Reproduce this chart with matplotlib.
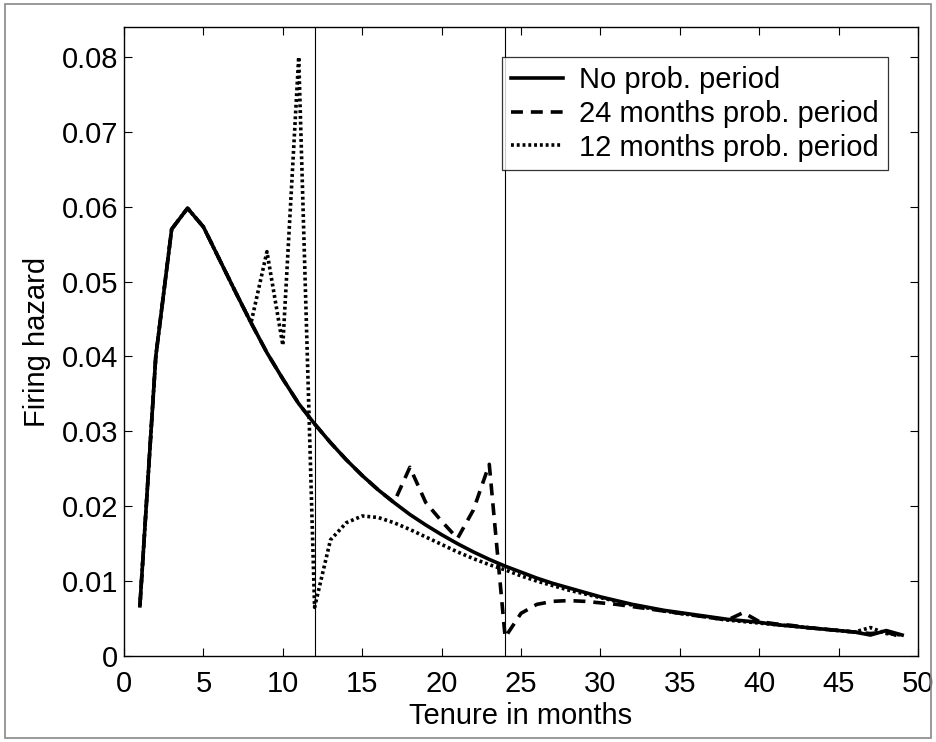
import numpy as np
import matplotlib
matplotlib.use('Agg')
import matplotlib.pyplot as plt
from matplotlib.patches import Rectangle

plt.rcParams['font.family'] = ['Liberation Sans', 'DejaVu Sans']

# tenure in months
months = np.arange(1, 50)

# no probation period
no_prob = [0.0067, 0.0400, 0.0570, 0.0598, 0.0573, 0.0530, 0.0487, 0.0445, 0.0405, 0.0370,
           0.0337, 0.0310, 0.0285, 0.0262, 0.0241, 0.0222, 0.0205, 0.0189, 0.0175, 0.0162,
           0.0150, 0.0139, 0.0129, 0.0120, 0.0112, 0.0104, 0.0097, 0.0091, 0.0085, 0.0079,
           0.0074, 0.0069, 0.0065, 0.0061, 0.0058, 0.0055, 0.0052, 0.0049, 0.0047, 0.0045,
           0.0042, 0.0040, 0.0038, 0.0036, 0.0034, 0.0032, 0.0028, 0.0034, 0.0028]

# 24 months probation period
prob24 = [0.0067, 0.0400, 0.0570, 0.0598, 0.0573, 0.0530, 0.0487, 0.0445, 0.0405, 0.0370,
          0.0337, 0.0310, 0.0285, 0.0262, 0.0241, 0.0222, 0.0205, 0.0252, 0.0205, 0.0180,
          0.0157, 0.0195, 0.0256, 0.0025, 0.0057, 0.0069, 0.0073, 0.0074, 0.0073, 0.0071,
          0.0069, 0.0066, 0.0063, 0.0060, 0.0057, 0.0054, 0.0051, 0.0048, 0.0058, 0.0046,
          0.0043, 0.0041, 0.0038, 0.0036, 0.0034, 0.0032, 0.0030, 0.0032, 0.0025]

# 12 months probation period
prob12 = [0.0067, 0.0400, 0.0570, 0.0598, 0.0573, 0.0530, 0.0487, 0.0445, 0.0540, 0.0415,
          0.0800, 0.0065, 0.0155, 0.0178, 0.0187, 0.0185, 0.0178, 0.0169, 0.0159, 0.0149,
          0.0139, 0.0130, 0.0122, 0.0115, 0.0107, 0.0100, 0.0094, 0.0088, 0.0083, 0.0078,
          0.0073, 0.0068, 0.0064, 0.0060, 0.0057, 0.0054, 0.0051, 0.0048, 0.0046, 0.0044,
          0.0042, 0.0040, 0.0038, 0.0036, 0.0034, 0.0032, 0.0038, 0.0030, 0.0028]

fig = plt.figure(figsize=(9.36, 7.42), dpi=100)
ax = fig.add_axes([0.1325, 0.1159, 0.8483, 0.8477])

# gray figure frame
fig.patches.append(Rectangle((0.005, 0.006), 0.99, 0.988, transform=fig.transFigure,
                             fill=False, edgecolor='#888888', linewidth=1.2))

lw = 2.6
ax.plot(months, no_prob, color='black', lw=lw, label='No prob. period')
ax.plot(months, prob24, color='black', lw=lw, linestyle=(0, (3.3, 2.2)),
        label='24 months prob. period')
ax.plot(months, prob12, color='black', lw=lw, linestyle=(0, (0.8, 0.8)),
        label='12 months prob. period')

ax.axvline(12, color='black', lw=0.8)
ax.axvline(24, color='black', lw=0.8)

ax.set_xlim(0, 50)
ax.set_ylim(0, 0.084)
ax.set_xticks(np.arange(0, 51, 5))
ax.set_yticks(np.arange(0, 0.081, 0.01))
ax.set_yticklabels(['0', '0.01', '0.02', '0.03', '0.04', '0.05', '0.06', '0.07', '0.08'])
ax.tick_params(direction='in', top=True, right=True, labelsize=21, length=6, width=0.8)
ax.tick_params(axis='x', pad=10)
ax.tick_params(axis='y', pad=4)
for s in ax.spines.values():
    s.set_linewidth(1.0)

ax.set_xlabel('Tenure in months', fontsize=21, labelpad=3)
ax.set_ylabel('Firing hazard', fontsize=21, labelpad=8)

leg = ax.legend(loc='upper right', bbox_to_anchor=(0.962, 0.952), fontsize=21,
                frameon=True, fancybox=False, edgecolor='black', handlelength=1.8,
                borderpad=0.3, labelspacing=0.2, handletextpad=0.55, borderaxespad=0)
leg.get_frame().set_linewidth(0.9)

fig.savefig('out.png', dpi=100)
